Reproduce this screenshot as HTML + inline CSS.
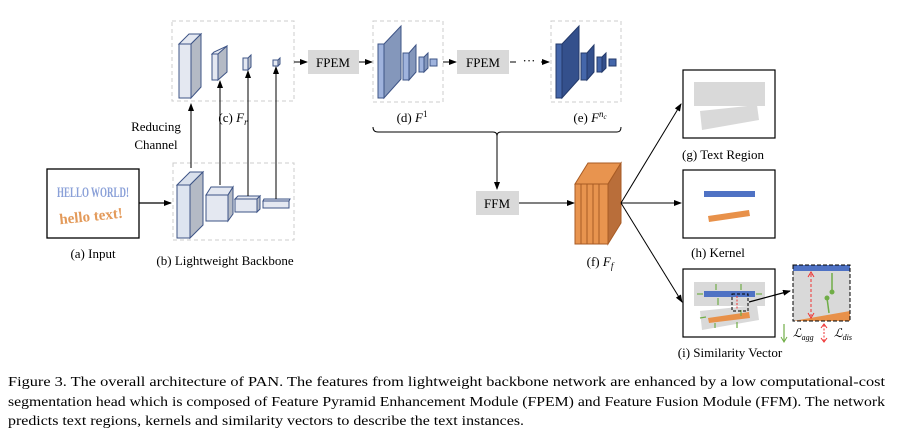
<!DOCTYPE html>
<html><head><meta charset="utf-8"><style>html,body{margin:0;padding:0;background:#fff}svg{display:block}text{font-family:"Liberation Serif",serif;fill:#000}</style></head>
<body>
<svg width="902" height="443" viewBox="0 0 902 443" xmlns="http://www.w3.org/2000/svg">
<defs>
<marker id="ar" markerWidth="8" markerHeight="6" refX="7" refY="3" orient="auto" markerUnits="userSpaceOnUse"><path d="M0,0L8,3L0,6z" fill="#000"/></marker>
</defs>
<rect x="47" y="169" width="92" height="69" fill="#fff" stroke="#000" stroke-width="1.3"/>
<text x="93" y="197" font-family="Liberation Sans Narrow,Liberation Sans,sans-serif" font-size="15" font-weight="bold" text-anchor="middle" style="fill:#8aa0d8" textLength="72" lengthAdjust="spacingAndGlyphs">HELLO WORLD!</text>
<text x="91" y="221" font-family="Liberation Sans,sans-serif" font-size="15" font-weight="bold" text-anchor="middle" style="fill:#e39a5a" transform="rotate(-6 91 216)">hello text!</text>
<text x="93" y="258" font-size="13" text-anchor="middle">(a) Input</text>
<line x1="139" y1="203" x2="171" y2="203" stroke="#000" stroke-width="1.3" marker-end="url(#ar)"/>
<rect x="173" y="163" width="121" height="77" fill="none" stroke="#ccc" stroke-dasharray="4,3"/>
<polygon points="177,185 190,172 203,172 190,185" fill="#d9e0ec" stroke="#3e5486"/>
<polygon points="190,185 203,172 203,225 190,238" fill="#b4bac5" stroke="#3e5486"/>
<rect x="177" y="185" width="13" height="53" fill="#dde4f0" stroke="#3e5486"/>
<polygon points="206,195 211,187 233,187 228,195" fill="#e4e8f1" stroke="#3e5486"/>
<polygon points="228,195 233,187 233,214 228,221" fill="#b4bac5" stroke="#3e5486"/>
<rect x="206" y="195" width="22" height="26" fill="#e4e8f1" stroke="#3e5486"/>
<polygon points="235,199 238,196 260,196 257,199" fill="#e4e8f1" stroke="#3e5486"/>
<polygon points="257,199 260,196 260,209 257,212" fill="#b4bac5" stroke="#3e5486"/>
<rect x="235" y="199" width="22" height="13" fill="#e4e8f1" stroke="#3e5486"/>
<polygon points="263,201 264,199 290,199 289,201" fill="#e4e8f1" stroke="#3e5486"/>
<rect x="263" y="201" width="26" height="7" fill="#e4e8f1" stroke="#3e5486"/>
<text x="225" y="265" font-size="13" text-anchor="middle">(b) Lightweight Backbone</text>
<rect x="172" y="21" width="122" height="80" fill="none" stroke="#ccc" stroke-dasharray="4,3"/>
<polygon points="179,44 189,34 201,34 191,44" fill="#e4e8f1" stroke="#3e5486"/>
<polygon points="191,44 201,34 201,87 191,98" fill="#b4bac5" stroke="#3e5486"/>
<rect x="179" y="44" width="12" height="54" fill="#e4e8f1" stroke="#3e5486"/>
<polygon points="212,54 214,52 227,46 225,54" fill="#e4e8f1" stroke="#3e5486"/>
<polygon points="218,54 227,46 227,72 218,80" fill="#b4bac5" stroke="#3e5486"/>
<rect x="212" y="54" width="6" height="26" fill="#e4e8f1" stroke="#3e5486"/>
<rect x="243" y="58" width="5" height="12" fill="#e4e8f1" stroke="#3e5486"/>
<polygon points="248,58 251,55 251,67 248,70" fill="#b4bac5" stroke="#3e5486"/>
<rect x="273" y="60" width="5" height="6" fill="#e4e8f1" stroke="#3e5486"/>
<polygon points="278,60 280,58 280,64 278,66" fill="#b4bac5" stroke="#3e5486"/>
<line x1="191" y1="168" x2="191" y2="104" stroke="#000" stroke-width="1" marker-end="url(#ar)"/>
<line x1="220" y1="185" x2="220" y2="81" stroke="#000" stroke-width="1" marker-end="url(#ar)"/>
<line x1="248" y1="196" x2="248" y2="71" stroke="#000" stroke-width="1" marker-end="url(#ar)"/>
<line x1="276" y1="199" x2="276" y2="67" stroke="#000" stroke-width="1" marker-end="url(#ar)"/>
<text x="156" y="131" font-size="13" text-anchor="middle">Reducing</text>
<text x="156" y="149" font-size="13" text-anchor="middle">Channel</text>
<text x="233" y="122" font-size="13" text-anchor="middle">(c) <tspan font-style="italic">F</tspan><tspan font-style="italic" font-size="9" dy="3">r</tspan></text>
<line x1="294" y1="62" x2="307" y2="62" stroke="#000" marker-end="url(#ar)"/>
<rect x="308" y="50" width="51" height="24" fill="#d9d9d9"/>
<text x="333" y="67" font-size="13" text-anchor="middle">FPEM</text>
<line x1="359" y1="62" x2="372" y2="62" stroke="#000" marker-end="url(#ar)"/>
<rect x="373" y="21" width="70" height="81" fill="none" stroke="#ccc" stroke-dasharray="4,3"/>
<rect x="378" y="44" width="6" height="54" fill="#9fb3dd" stroke="#3e5486"/>
<polygon points="384,44 401,26 401,79 384,98" fill="#8497bb" stroke="#3e5486"/>
<rect x="403" y="53" width="6" height="27" fill="#9fb3dd" stroke="#3e5486"/>
<polygon points="409,53 416,45 416,72 409,80" fill="#8497bb" stroke="#3e5486"/>
<rect x="419" y="57" width="5" height="15" fill="#9fb3dd" stroke="#3e5486"/>
<polygon points="424,57 428,53 428,68 424,72" fill="#8497bb" stroke="#3e5486"/>
<rect x="430" y="59" width="7" height="7" fill="#9fb3dd" stroke="#3e5486"/>
<text x="412" y="122" font-size="13" text-anchor="middle">(d) <tspan font-style="italic">F</tspan><tspan font-size="9" dy="-5">1</tspan></text>
<line x1="443" y1="62" x2="456" y2="62" stroke="#000" marker-end="url(#ar)"/>
<rect x="457" y="50" width="52" height="24" fill="#d9d9d9"/>
<text x="483" y="67" font-size="13" text-anchor="middle">FPEM</text>
<line x1="510" y1="62" x2="516" y2="62" stroke="#000"/>
<text x="529" y="65" font-size="13" text-anchor="middle">···</text>
<line x1="541" y1="62" x2="549" y2="62" stroke="#000" marker-end="url(#ar)"/>
<rect x="551" y="21" width="70" height="81" fill="none" stroke="#ccc" stroke-dasharray="4,3"/>
<rect x="556" y="44" width="6" height="54" fill="#4466aa" stroke="#23396a"/>
<polygon points="562,44 579,26 579,79 562,98" fill="#34508c" stroke="#23396a"/>
<rect x="581" y="53" width="6" height="27" fill="#4466aa" stroke="#23396a"/>
<polygon points="587,53 594,45 594,72 587,80" fill="#34508c" stroke="#23396a"/>
<rect x="597" y="57" width="5" height="15" fill="#4466aa" stroke="#23396a"/>
<polygon points="602,57 606,53 606,68 602,72" fill="#34508c" stroke="#23396a"/>
<rect x="609" y="59" width="7" height="7" fill="#4466aa" stroke="#23396a"/>
<text x="590" y="122" font-size="13" text-anchor="middle">(e) <tspan font-style="italic">F</tspan><tspan font-style="italic" font-size="9" dy="-5">n</tspan><tspan font-style="italic" font-size="7" dy="2">c</tspan></text>
<path d="M373,127 Q373,132 378,132 L493,132 Q497,132 497,136 Q497,132 501,132 L617,132 Q621,132 621,127" fill="none" stroke="#000" stroke-width="1"/>
<line x1="497" y1="136" x2="497" y2="189" stroke="#000" marker-end="url(#ar)"/>
<rect x="476" y="191" width="43" height="24" fill="#d9d9d9"/>
<text x="497" y="208" font-size="13" text-anchor="middle">FFM</text>
<line x1="519" y1="203" x2="574" y2="203" stroke="#000" marker-end="url(#ar)"/>
<polygon points="575,184 588,163 621,163 608,184" fill="#e8944f" stroke="#a85b24"/>
<polygon points="608,184 621,163 621,223 608,244" fill="#b96e3a" stroke="#a85b24"/>
<rect x="575" y="184" width="33" height="60" fill="#e8944f" stroke="#a85b24"/>
<line x1="581" y1="184" x2="581" y2="244" stroke="#a85b24"/>
<line x1="587" y1="184" x2="587" y2="244" stroke="#a85b24"/>
<line x1="593" y1="184" x2="593" y2="244" stroke="#a85b24"/>
<line x1="599" y1="184" x2="599" y2="244" stroke="#a85b24"/>
<text x="600" y="266" font-size="13" text-anchor="middle">(f) <tspan font-style="italic">F</tspan><tspan font-style="italic" font-size="9" dy="3">f</tspan></text>
<line x1="621" y1="203" x2="681" y2="104" stroke="#000" marker-end="url(#ar)"/>
<line x1="621" y1="203" x2="681" y2="203" stroke="#000" marker-end="url(#ar)"/>
<line x1="621" y1="203" x2="682" y2="302" stroke="#000" marker-end="url(#ar)"/>
<rect x="683" y="70" width="92" height="68" fill="#fff" stroke="#000" stroke-width="1.2"/>
<rect x="694" y="82" width="71" height="24" fill="#d9d9d9"/>
<polygon points="700,111 757,105 759,120 702,130" fill="#d9d9d9"/>
<text x="723" y="159" font-size="13" text-anchor="middle">(g) Text Region</text>
<rect x="683" y="170" width="92" height="68" fill="#fff" stroke="#000" stroke-width="1.2"/>
<rect x="704" y="191" width="51" height="6" fill="#4f72c4"/>
<polygon points="708,216 749,210 750,216 709,222" fill="#e8914a"/>
<text x="718" y="257" font-size="13" text-anchor="middle">(h) Kernel</text>
<rect x="683" y="269" width="92" height="68" fill="#fff" stroke="#000" stroke-width="1.2"/>
<rect x="694" y="282" width="71" height="24" fill="#d9d9d9"/>
<polygon points="700,311 757,305 759,320 702,330" fill="#d9d9d9"/>
<rect x="704" y="291" width="51" height="6" fill="#4f72c4"/>
<polygon points="708,318 749,312 750,318 709,323" fill="#e8914a"/>
<g stroke="#70ad47" stroke-width="1.2" fill="#70ad47">
<line x1="716" y1="284" x2="716" y2="290"/><line x1="741" y1="284" x2="741" y2="290"/>
<line x1="697" y1="294" x2="703" y2="294"/><line x1="756" y1="294" x2="762" y2="294"/>
<line x1="718" y1="298" x2="718" y2="305"/><line x1="741" y1="310" x2="741" y2="316"/>
<line x1="715" y1="323" x2="715" y2="328"/><line x1="737" y1="322" x2="737" y2="328"/>
<line x1="706" y1="317" x2="700" y2="318"/>
</g>
<rect x="732" y="294" width="16" height="17" fill="none" stroke="#000" stroke-dasharray="3,2"/>
<line x1="737" y1="296" x2="737" y2="309" stroke="#e33" stroke-dasharray="2,1.5"/>
<line x1="749" y1="302" x2="790" y2="291" stroke="#000" stroke-width="1.2" marker-end="url(#ar)"/>
<text x="730" y="357" font-size="13" text-anchor="middle">(i) Similarity Vector</text>
<rect x="793" y="265" width="57" height="56" fill="#d9d9d9"/>
<rect x="793" y="265" width="57" height="6" fill="#4f72c4"/>
<polygon points="793,321 850,311 850,321" fill="#e8914a"/>
<rect x="793" y="265" width="57" height="56" fill="none" stroke="#000" stroke-dasharray="4,2"/>
<line x1="811" y1="274" x2="811" y2="316" stroke="#e33" stroke-dasharray="3,2"/>
<path d="M808,277 L811,272 L814,277 M808,313 L811,318 L814,313" fill="none" stroke="#e33"/>
<line x1="832" y1="273" x2="832" y2="292" stroke="#70ad47" stroke-width="1.5"/>
<circle cx="832" cy="292" r="2.5" fill="#70ad47"/>
<line x1="827" y1="298" x2="829" y2="313" stroke="#70ad47" stroke-width="1.5"/>
<circle cx="827" cy="298" r="2.5" fill="#70ad47"/>
<line x1="784" y1="324" x2="784" y2="341" stroke="#70ad47" stroke-width="1.2"/>
<path d="M781,337 L784,342 L787,337" fill="none" stroke="#70ad47"/>
<text x="793" y="337" font-size="12" font-style="italic">ℒ<tspan font-size="8" dy="3">agg</tspan></text>
<line x1="824" y1="325" x2="824" y2="341" stroke="#e33" stroke-dasharray="2,1.5"/>
<path d="M821,328 L824,324 L827,328 M821,338 L824,342 L827,338" fill="none" stroke="#e33"/>
<text x="834" y="337" font-size="12" font-style="italic">ℒ<tspan font-size="8" dy="3">dis</tspan></text>
<text x="8" y="386" font-size="14" textLength="877" lengthAdjust="spacingAndGlyphs">Figure 3. The overall architecture of PAN. The features from lightweight backbone network are enhanced by a low computational-cost</text>
<text x="8" y="406" font-size="14" textLength="877" lengthAdjust="spacingAndGlyphs">segmentation head which is composed of Feature Pyramid Enhancement Module (FPEM) and Feature Fusion Module (FFM). The network</text>
<text x="8" y="425" font-size="14" textLength="516" lengthAdjust="spacingAndGlyphs">predicts text regions, kernels and similarity vectors to describe the text instances.</text>
</svg>
</body></html>
